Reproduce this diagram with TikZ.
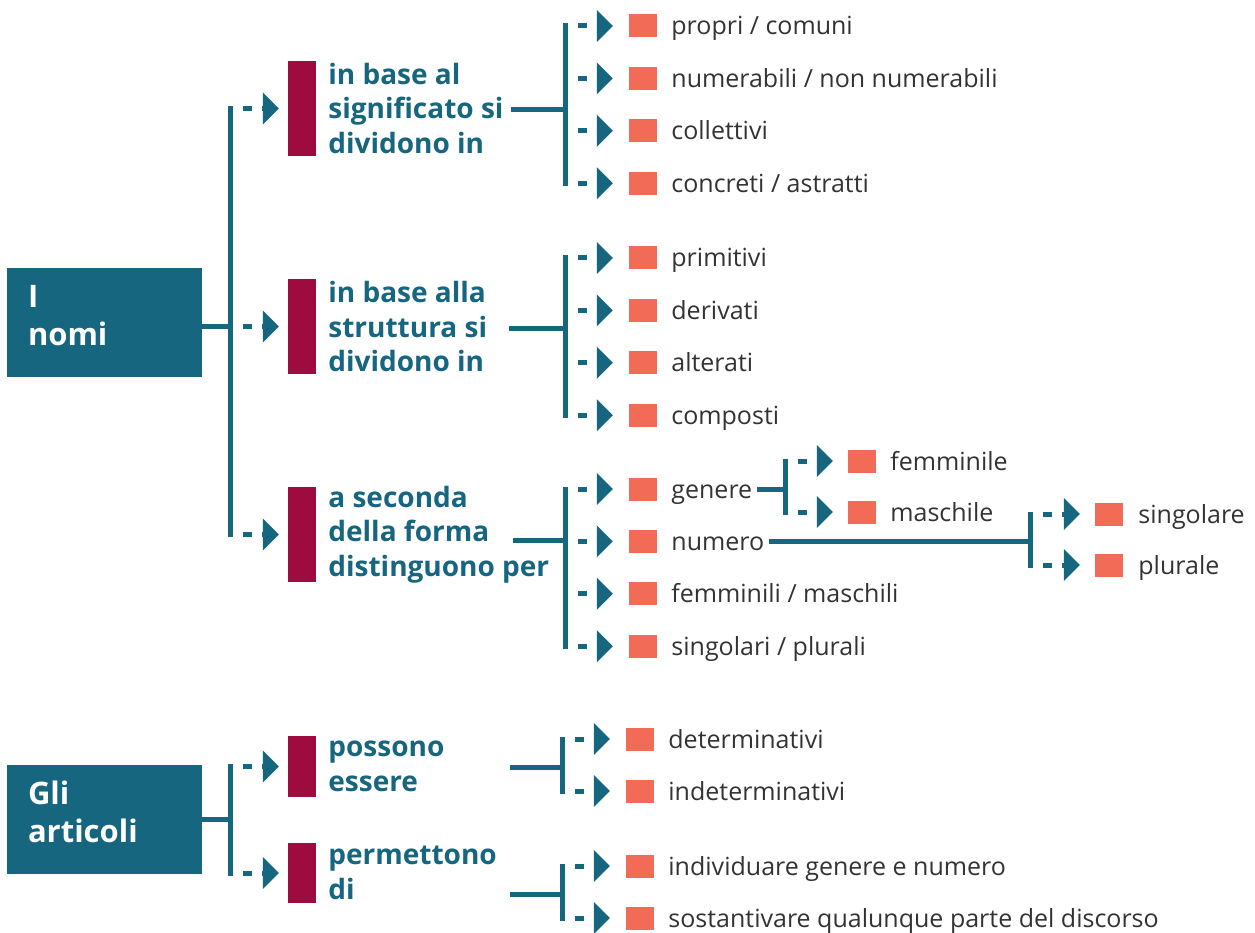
\documentclass[tikz,border=0pt]{standalone}
\usepackage{fontspec}
\setmainfont{Open Sans}
\usetikzlibrary{positioning,arrows.meta}
\definecolor{schemablue}{HTML}{16667F}
\definecolor{schemawine}{HTML}{9E0B3F}
\definecolor{schemacoral}{HTML}{F26B56}
\definecolor{schematext}{HTML}{333333}

\tikzset{
  mainbox/.style={fill=schemablue, text=white, font=\bfseries\fontsize{31}{38}\selectfont,
    minimum width=195pt, minimum height=109pt, text width=153pt, inner xsep=21pt, align=left,
    text depth=52pt},
  bar/.style={fill=schemawine, minimum width=28pt, inner sep=0pt},
  head/.style={text=schemablue, font=\bfseries\fontsize{28}{34.5}\selectfont, inner sep=0pt, align=left},
  sq/.style={fill=schemacoral, minimum width=28pt, minimum height=23pt, inner sep=0pt},
  item/.style={text=schematext, font=\fontsize{25}{30}\selectfont, inner sep=0pt,
    text height=22pt, text depth=4pt},
  conn/.style={draw=schemablue, line width=5pt, line cap=rect},
  dasharrow/.style={draw=schemablue, line width=5pt, dash pattern=on 9pt off 10pt, dash phase=6pt,
    -{Triangle[length=16pt,width=32pt,line width=0pt]}}
}

\begin{document}
\begin{tikzpicture}[x=1pt,y=-1pt]
\useasboundingbox (0,0) rectangle (1255,933);

\node[mainbox] (nomi) at (104.5,322.5) {I\\nomi};
\node[mainbox] (articoli) at (104.5,819) {Gli\\articoli};

\node[bar, minimum height=95pt] (b1) at (302,108.5) {};
\node[bar, minimum height=95pt] (b2) at (302,326.5) {};
\node[bar, minimum height=95pt] (b3) at (302,534.5) {};
\node[bar, minimum height=61pt] (b4) at (302,766.5) {};
\node[bar, minimum height=60pt] (b5) at (302,873) {};

\node[head, right=12pt of b1] (h1) {in base al\\significato si\\dividono in};
\node[head, right=12pt of b2] (h2) {in base alla\\struttura si\\dividono in};
\node[head, right=12pt of b3] (h3) {a seconda\\della forma\\distinguono per};
\node[head, right=12pt of b4] (h4) {possono\\essere};
\node[head, right=12pt of b5] (h5) {permettono\\di};

% significato
\node[sq] (s11) at (643,26) {};
\node[sq, below=29pt of s11] (s12) {};
\node[sq, below=29pt of s12] (s13) {};
\node[sq, below=29pt of s13] (s14) {};
\node[item, right=14pt of s11] (i11) {propri / comuni};
\node[item, right=14pt of s12] (i12) {numerabili / non numerabili};
\node[item, right=14pt of s13] (i13) {collettivi};
\node[item, right=14pt of s14] (i14) {concreti / astratti};

% struttura
\node[sq] (s21) at (643,258) {};
\node[sq, below=29pt of s21] (s22) {};
\node[sq, below=29pt of s22] (s23) {};
\node[sq, below=29pt of s23] (s24) {};
\node[item, right=14pt of s21] (i21) {primitivi};
\node[item, right=14pt of s22] (i22) {derivati};
\node[item, right=14pt of s23] (i23) {alterati};
\node[item, right=14pt of s24] (i24) {composti};

% forma
\node[sq] (s31) at (643,489) {};
\node[sq, below=29pt of s31] (s32) {};
\node[sq, below=29pt of s32] (s33) {};
\node[sq, below=29pt of s33] (s34) {};
\node[item, right=14pt of s31] (genere) {genere};
\node[item, right=14pt of s32] (numero) {numero};
\node[item, right=14pt of s33] (i33) {femminili / maschili};
\node[item, right=14pt of s34] (i34) {singolari / plurali};

\node[sq] (s61) at (862,461) {};
\node[sq] (s62) at (862,512) {};
\node[item, right=14pt of s61] (i61) {femminile};
\node[item, right=14pt of s62] (i62) {maschile};

\node[sq] (s71) at (1109,514) {};
\node[sq] (s72) at (1109,565) {};
\node[item, right=15pt of s71] (i71) {singolare};
\node[item, right=15pt of s72] (i72) {plurale};

% articoli
\node[sq] (s41) at (640,739) {};
\node[sq] (s42) at (640,791) {};
\node[item, right=14pt of s41] (i41) {determinativi};
\node[item, right=14pt of s42] (i42) {indeterminativi};

\node[sq] (s51) at (640,866) {};
\node[sq] (s52) at (640,918) {};
\node[item, right=14pt of s51] (i51) {individuare genere e numero};
\node[item, right=14pt of s52] (i52) {sostantivare qualunque parte del discorso};

\coordinate (vn) at (230,325);
\coordinate (va) at (230,819);
\coordinate (f1) at (513,110);
\coordinate (g1) at (565,110);
\coordinate (f2) at (511,328);
\coordinate (g2) at (565,328);
\coordinate (f3) at (515,540);
\coordinate (g3) at (565,540);
\coordinate (g6) at (785,489);
\coordinate (g7) at (1030,543);
\coordinate (f4) at (512,767);
\coordinate (g4) at (562,767);
\coordinate (f5) at (512,894);
\coordinate (g5) at (562,894);

\draw[conn] (nomi.east |- b2) -- (vn |- b2);
\draw[conn] (vn |- b1) -- (vn |- b3);
\draw[dasharrow] (vn |- b1) -- ([xshift=-9pt]b1.west);
\draw[dasharrow] (vn |- b2) -- ([xshift=-9pt]b2.west);
\draw[dasharrow] (vn |- b3) -- ([xshift=-9pt]b3.west);

\draw[conn] (articoli.east) -- (va);
\draw[conn] (va |- b4) -- (va |- b5);
\draw[dasharrow] (va |- b4) -- ([xshift=-9pt]b4.west);
\draw[dasharrow] (va |- b5) -- ([xshift=-9pt]b5.west);

\draw[conn] (f1) -- (g1);
\draw[conn] (g1 |- s11) -- (g1 |- s14);
\draw[dasharrow] (g1 |- s11) -- ([xshift=-16pt]s11.west);
\draw[dasharrow] (g1 |- s12) -- ([xshift=-16pt]s12.west);
\draw[dasharrow] (g1 |- s13) -- ([xshift=-16pt]s13.west);
\draw[dasharrow] (g1 |- s14) -- ([xshift=-16pt]s14.west);

\draw[conn] (f2) -- (g2);
\draw[conn] (g2 |- s21) -- (g2 |- s24);
\draw[dasharrow] (g2 |- s21) -- ([xshift=-16pt]s21.west);
\draw[dasharrow] (g2 |- s22) -- ([xshift=-16pt]s22.west);
\draw[dasharrow] (g2 |- s23) -- ([xshift=-16pt]s23.west);
\draw[dasharrow] (g2 |- s24) -- ([xshift=-16pt]s24.west);

\draw[conn] (f3) -- (g3);
\draw[conn] (g3 |- s31) -- (g3 |- s34);
\draw[dasharrow] (g3 |- s31) -- ([xshift=-16pt]s31.west);
\draw[dasharrow] (g3 |- s32) -- ([xshift=-16pt]s32.west);
\draw[dasharrow] (g3 |- s33) -- ([xshift=-16pt]s33.west);
\draw[dasharrow] (g3 |- s34) -- ([xshift=-16pt]s34.west);

\draw[conn, shorten <=7pt] (genere.east) -- (g6);
\draw[conn] (g6 |- s61) -- (g6 |- s62);
\draw[dasharrow] (g6 |- s61) -- ([xshift=-15pt]s61.west);
\draw[dasharrow] (g6 |- s62) -- ([xshift=-15pt]s62.west);

\draw[conn, shorten <=7pt] (numero.east) -- (g7 |- numero);
\draw[conn] (g7 |- s71) -- (g7 |- s72);
\draw[dasharrow] (g7 |- s71) -- ([xshift=-15pt]s71.west);
\draw[dasharrow] (g7 |- s72) -- ([xshift=-15pt]s72.west);

\draw[conn] (f4) -- (g4);
\draw[conn] (g4 |- s41) -- (g4 |- s42);
\draw[dasharrow] (g4 |- s41) -- ([xshift=-16pt]s41.west);
\draw[dasharrow] (g4 |- s42) -- ([xshift=-16pt]s42.west);

\draw[conn] (f5) -- (g5);
\draw[conn] (g5 |- s51) -- (g5 |- s52);
\draw[dasharrow] (g5 |- s51) -- ([xshift=-16pt]s51.west);
\draw[dasharrow] (g5 |- s52) -- ([xshift=-16pt]s52.west);
\end{tikzpicture}
\end{document}
